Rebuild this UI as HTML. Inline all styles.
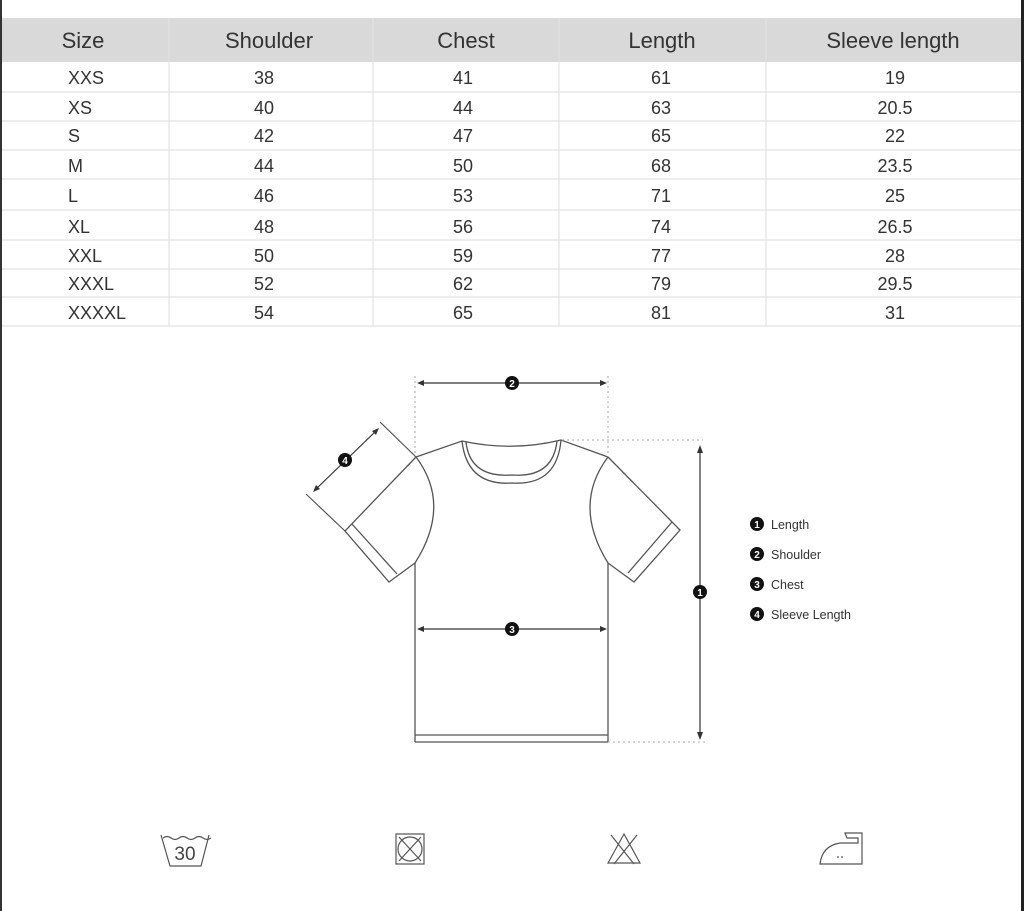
<!DOCTYPE html>
<html><head><meta charset="utf-8"><style>
html,body{margin:0;padding:0;background:#fff}
svg{display:block}
.h{font-family:"Liberation Sans",sans-serif;font-size:22px;fill:#333}
.c{font-family:"Liberation Sans",sans-serif;font-size:18px;fill:#333}
.l{font-family:"Liberation Sans",sans-serif;font-size:12.5px;fill:#333}
</style></head><body>
<svg width="1024" height="911" viewBox="0 0 1024 911" xmlns="http://www.w3.org/2000/svg">
<rect x="0" y="0" width="1024" height="911" fill="#fff"/>
<rect x="1" y="18" width="1021" height="44" fill="#d9d9d9"/>
<g stroke="#e2e2e2" stroke-width="1.2">
<line x1="169" y1="18" x2="169" y2="326"/><line x1="373" y1="18" x2="373" y2="326"/>
<line x1="559" y1="18" x2="559" y2="326"/><line x1="766" y1="18" x2="766" y2="326"/>
<line x1="0" y1="92" x2="1022" y2="92"/><line x1="0" y1="121" x2="1022" y2="121"/>
<line x1="0" y1="150" x2="1022" y2="150"/><line x1="0" y1="179" x2="1022" y2="179"/>
<line x1="0" y1="210" x2="1022" y2="210"/><line x1="0" y1="240" x2="1022" y2="240"/>
<line x1="0" y1="269" x2="1022" y2="269"/><line x1="0" y1="297" x2="1022" y2="297"/>
<line x1="0" y1="326" x2="1022" y2="326"/>
</g>
<rect x="0" y="0" width="2" height="911" fill="#333"/>
<rect x="1021" y="0" width="3" height="911" fill="#222"/>
<g class="h" text-anchor="middle">
<text x="83" y="48">Size</text><text x="269" y="48">Shoulder</text><text x="466" y="48">Chest</text><text x="662" y="48">Length</text><text x="893" y="48">Sleeve length</text>
</g>
<g class="c">
<text x="68" y="84">XXS</text><text x="68" y="114">XS</text><text x="68" y="142">S</text><text x="68" y="172">M</text><text x="68" y="202">L</text><text x="68" y="233">XL</text><text x="68" y="262">XXL</text><text x="68" y="290">XXXL</text><text x="68" y="319">XXXXL</text>
</g>
<g class="c" text-anchor="middle">
<text x="264" y="84">38</text><text x="463" y="84">41</text><text x="661" y="84">61</text><text x="895" y="84">19</text>
<text x="264" y="114">40</text><text x="463" y="114">44</text><text x="661" y="114">63</text><text x="895" y="114">20.5</text>
<text x="264" y="142">42</text><text x="463" y="142">47</text><text x="661" y="142">65</text><text x="895" y="142">22</text>
<text x="264" y="172">44</text><text x="463" y="172">50</text><text x="661" y="172">68</text><text x="895" y="172">23.5</text>
<text x="264" y="202">46</text><text x="463" y="202">53</text><text x="661" y="202">71</text><text x="895" y="202">25</text>
<text x="264" y="233">48</text><text x="463" y="233">56</text><text x="661" y="233">74</text><text x="895" y="233">26.5</text>
<text x="264" y="262">50</text><text x="463" y="262">59</text><text x="661" y="262">77</text><text x="895" y="262">28</text>
<text x="264" y="290">52</text><text x="463" y="290">62</text><text x="661" y="290">79</text><text x="895" y="290">29.5</text>
<text x="264" y="319">54</text><text x="463" y="319">65</text><text x="661" y="319">81</text><text x="895" y="319">31</text>
</g>
<!-- shirt -->
<g fill="none" stroke="#555" stroke-width="1.3">
<path d="M416,457 L462,441 Q512,452 561,440 L608,457"/>
<path d="M462,441 Q467,486 512,483 Q557,486 561,440"/>
<path d="M466,442 Q470,478 512,475 Q553,478 557,441"/>
<line x1="415" y1="563" x2="415" y2="742"/><line x1="608" y1="563" x2="608" y2="742"/>
<line x1="415" y1="742" x2="608" y2="742"/><line x1="415" y1="735" x2="608" y2="735"/>
<path d="M416,457 Q452,505 415,563"/>
<path d="M608,457 Q572,505 608,563"/>
<path d="M416,457 L345,531 L389,582 L415,563"/>
<line x1="352" y1="524" x2="397" y2="574"/>
<path d="M608,457 L680,530 L634,582 L608,563"/>
<line x1="672" y1="522" x2="628" y2="573"/>
</g>
<g stroke="#aaa" stroke-width="1" stroke-dasharray="2,3" fill="none">
<line x1="415" y1="376" x2="415" y2="457"/><line x1="608" y1="376" x2="608" y2="457"/>
<line x1="562" y1="440" x2="703" y2="440"/><line x1="608" y1="742" x2="705" y2="742"/>
</g>
<g stroke="#333" stroke-width="1.2" fill="#333">
<line x1="420" y1="383" x2="604" y2="383"/>
<path d="M417,383 l7,-3 v6z M607,383 l-7,-3 v6z" stroke="none"/>
<line x1="420" y1="629" x2="604" y2="629"/>
<path d="M417,629 l7,-3 v6z M607,629 l-7,-3 v6z" stroke="none"/>
<line x1="700" y1="448" x2="700" y2="737"/>
<path d="M700,445 l-3,8 h6z M700,740 l-3,-8 h6z" stroke="none"/>
<line x1="315" y1="490" x2="377" y2="430"/>
<path d="M313,492 l3,-7 l4,4z M379,428 l-3,7 l-4,-4z" stroke="none"/>
<line x1="306" y1="494" x2="345" y2="531" stroke="#555"/>
<line x1="380" y1="422" x2="416" y2="457" stroke="#555"/>
</g>
<g fill="#111">
<circle cx="512" cy="383" r="7"/><circle cx="512" cy="629" r="7"/><circle cx="700" cy="592" r="7"/><circle cx="345" cy="460" r="7"/>
<circle cx="757" cy="524" r="7"/><circle cx="757" cy="554" r="7"/><circle cx="757" cy="584" r="7"/><circle cx="757" cy="614" r="7"/>
</g>
<g font-family="Liberation Sans,sans-serif" font-size="10" font-weight="bold" fill="#fff" text-anchor="middle">
<text x="512" y="387">2</text><text x="512" y="633">3</text><text x="700" y="596">1</text><text x="345" y="464">4</text>
<text x="757" y="528">1</text><text x="757" y="558">2</text><text x="757" y="588">3</text><text x="757" y="618">4</text>
</g>
<g class="l">
<text x="771" y="529">Length</text><text x="771" y="559">Shoulder</text><text x="771" y="589">Chest</text><text x="771" y="619">Sleeve Length</text>
</g>
<!-- icons -->
<g fill="none" stroke="#555" stroke-width="1.2">
<path d="M161,835 L170,866 L201,866 L209,835"/>
<path d="M163,838 q4,-3 8,0 q4,3 8,0 q4,-3 8,0 q4,3 8,0 q4,-3 8,0 q4,3 8,0"/>
<rect x="396" y="834" width="28" height="30"/>
<circle cx="410" cy="849" r="12"/>
<line x1="399" y1="837" x2="421" y2="861"/><line x1="421" y1="837" x2="399" y2="861"/>
<path d="M624,834 L608,863 L640,863 Z"/>
<line x1="611" y1="835" x2="634" y2="864"/><line x1="637" y1="835" x2="614" y2="864"/>
<path d="M820,864 L862,864 L862,833 L845,833 L847,838 L858,838 L858,843 L840,843 Q822,846 820,864 Z"/>
</g>
<text x="185" y="860" font-family="Liberation Sans,sans-serif" font-size="19" fill="#444" text-anchor="middle">30</text>
<circle cx="838" cy="857" r="0.9" fill="#555"/><circle cx="842" cy="857" r="0.9" fill="#555"/>
</svg>
</body></html>
